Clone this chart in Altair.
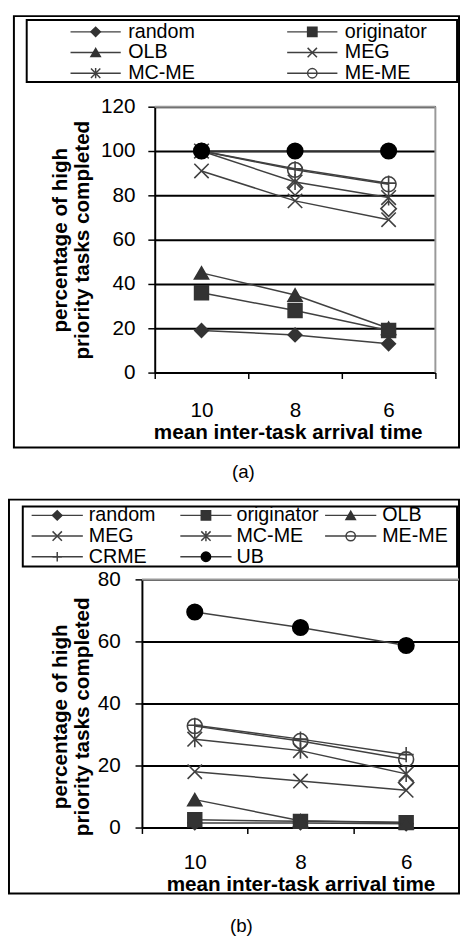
import altair as alt
import pandas as pd

# ---------------- data ----------------
categories = ["10", "8", "6"]
series_names = ["random", "originator", "OLB", "MEG", "MC-ME", "ME-ME", "CRME", "other", "UB"]

# panel (a)
a_random = [19, 17, 13]
a_originator = [36, 28, 19]
a_olb = [45, 35, 20]
a_meg = [91, 77.5, 69]
a_mcme = [100, 86, 79]
a_meme = [100, 91.5, 85]
a_crme = [100, 92, 85.5]
a_other = [None, 83.5, 74]
a_ub = [100, 100, 100]

# panel (b)
b_random = [1.5, 1.5, 1.2]
b_originator = [2.5, 2.0, 1.6]
b_olb = [9.0, 2.2, 1.6]
b_meg = [18, 15, 12]
b_mcme = [28.5, 24.8, 17.3]
b_meme = [32.7, 27.9, 22]
b_crme = [33, 28.5, 23.5]
b_other = [None, None, 14.5]
b_ub = [69.5, 64.5, 58.7]

legend_a = ["random", "originator", "OLB", "MEG", "MC-ME", "ME-ME"]
legend_b = ["random", "originator", "OLB", "MEG", "MC-ME", "ME-ME", "CRME", "UB"]

y_ticks_a = [0, 20, 40, 60, 80, 100, 120]
y_ticks_b = [0, 20, 40, 60, 80]

y_title = ["percentage of high", "priority tasks completed"]
x_title = "mean inter-task arrival time"

# ---------------- styles ----------------
FONT = "Liberation Sans"
LINE = "#404040"
FILL = "#333333"
XMARK = "M-1,-1L1,1M-1,1L1,-1"
ASTER = "M-1,-1L1,1M-1,1L1,-1M0,-1.1L0,1.1"
PLUS = "M-1,0L1,0M0,-1L0,1"

shape_range = ["diamond", "square", "triangle-up", XMARK, ASTER, "circle", PLUS, "diamond", "circle"]
fill_range = [FILL, FILL, FILL, "transparent", "transparent", "transparent", "transparent", "transparent", "black"]
stroke_range = [FILL, FILL, FILL, LINE, LINE, LINE, LINE, LINE, "black"]
size_range = [190, 250, 240, 300, 300, 420, 400, 256, 220]


def long_df(values):
    rows = []
    for name, vals in zip(series_names, values):
        for c, v in zip(categories, vals):
            if v is not None:
                rows.append({"series": name, "cat": c, "value": v})
    return pd.DataFrame(rows)


def legend_df(names, ncols, g):
    rows = []
    for i, n in enumerate(names):
        r, c = divmod(i, ncols)
        cx = g["leg_cx"][c]
        rows.append({"series": n, "lx": cx, "lx1": cx - g["leg_half"], "lx2": cx + g["leg_half"],
                     "ly": g["leg_rows"][r], "tx": g["leg_tx"][c]})
    return pd.DataFrame(rows)


def make_panel(values, legend_names, ncols, ymax, yticks, g, caption):
    df = long_df(values)
    xs = alt.Scale(type="band", domain=categories, range=g["xrange"], paddingInner=0, paddingOuter=0)
    ys = alt.Scale(domain=[0, ymax], nice=False, zero=True)
    shape_s = alt.Scale(domain=series_names, range=shape_range)
    fill_s = alt.Scale(domain=series_names, range=fill_range)
    stroke_s = alt.Scale(domain=series_names, range=stroke_range)
    size_s = alt.Scale(domain=series_names, range=size_range)

    x_enc = alt.X("cat:N", sort=categories, scale=xs, axis=alt.Axis(
        title=x_title, tickBand="extent", labelAngle=0, grid=False,
        domainColor="black", domainWidth=2, tickColor="black", tickWidth=1.5, tickSize=6,
        labelFont=FONT, labelFontSize=21, labelColor="black", labelPadding=g["xlp"],
        titleFont=FONT, titleFontSize=21, titleFontWeight="bold", titleColor="black",
        titleX=g["xt_x"], titleY=g["xt_y"], titleBaseline="alphabetic", titleAlign="center"))
    y_enc = alt.Y("value:Q", scale=ys, axis=alt.Axis(
        values=yticks, format="d", title=y_title, grid=True, gridColor="black", gridWidth=2,
        domainColor="black", domainWidth=2, tickColor="black", tickWidth=1.5, tickSize=7,
        labelFont=FONT, labelFontSize=21, labelColor="black", labelPadding=g["ylp"],
        offset=g["yoff"],
        titleFont=FONT, titleFontSize=21, titleFontWeight="bold", titleColor="black",
        titleAngle=270, titleAlign="center", titleBaseline="alphabetic", titleLineHeight=23,
        titleX=g["yt_x"], titleY=g["yt_y"]))

    one = alt.Chart(pd.DataFrame({"k": [0]}))
    frame = one.mark_rect(fill="transparent", stroke="black", strokeWidth=2).encode(
        x=alt.value(g["frame"][0]), x2=alt.value(g["frame"][1]),
        y=alt.value(g["frame"][2]), y2=alt.value(g["frame"][3]))
    legbox = one.mark_rect(fill="transparent", stroke="black", strokeWidth=2).encode(
        x=alt.value(g["legbox"][0]), x2=alt.value(g["legbox"][1]),
        y=alt.value(g["legbox"][2]), y2=alt.value(g["legbox"][3]))
    border_top = one.mark_rule(color="#999999", strokeWidth=2).encode(
        x=alt.value(g["xrange"][0]), x2=alt.value(g["xrange"][1]), y=alt.value(0))
    layers = [frame, legbox, border_top]
    if g.get("right_border"):
        layers.append(one.mark_rule(color="#999999", strokeWidth=2).encode(
            x=alt.value(g["xrange"][1]), y=alt.value(0), y2=alt.value(g["h"])))

    base = alt.Chart(df)
    lines = base.transform_filter("datum.series != 'other'").mark_line(
        color=LINE, strokeWidth=1.5).encode(x=x_enc, y=y_enc, detail="series:N")
    points = base.mark_point(opacity=1, strokeWidth=1.6).encode(
        x=x_enc, y=y_enc,
        shape=alt.Shape("series:N", scale=shape_s, legend=None),
        fill=alt.Fill("series:N", scale=fill_s, legend=None),
        stroke=alt.Stroke("series:N", scale=stroke_s, legend=None),
        size=alt.Size("series:N", scale=size_s, legend=None))

    ldf = legend_df(legend_names, ncols, g)
    lbase = alt.Chart(ldf)
    leg_lines = lbase.mark_rule(color=LINE, strokeWidth=1.5).encode(
        x=alt.X("lx1:Q", scale=None, axis=None), x2="lx2:Q",
        y=alt.Y("ly:Q", scale=None, axis=None))
    leg_pts = lbase.mark_point(opacity=1, strokeWidth=1.5).encode(
        x=alt.X("lx:Q", scale=None, axis=None), y=alt.Y("ly:Q", scale=None, axis=None),
        shape=alt.Shape("series:N", scale=shape_s, legend=None),
        fill=alt.Fill("series:N", scale=fill_s, legend=None),
        stroke=alt.Stroke("series:N", scale=stroke_s, legend=None),
        size=alt.value(90))
    leg_txt = lbase.mark_text(align="left", baseline="middle", font=FONT, fontSize=20, color="black").encode(
        x=alt.X("tx:Q", scale=None, axis=None), y=alt.Y("ly:Q", scale=None, axis=None), text="series:N")
    cap = one.mark_text(align="center", baseline="middle", font=FONT, fontSize=19, color="black").encode(
        x=alt.value(g["cap"][0]), y=alt.value(g["cap"][1]), text=alt.value(caption))

    layers += [lines, points, leg_lines, leg_pts, leg_txt, cap]
    return alt.layer(*layers).properties(width=g["w"], height=g["h"])


geom_a = dict(w=298, h=270, xrange=[13, 298], yoff=-13, ylp=13, xlp=22,
              yt_x=-90, yt_y=135, xt_x=148, xt_y=67,
              frame=[-130, 322, -92, 346], legbox=[-117, 320, -88, -25],
              leg_cx=[-47, 173], leg_tx=[-14, 206], leg_rows=[-76, -55, -34], leg_half=25.5,
              cap=[103, 371], right_border=True)
geom_b = dict(w=322, h=252, xrange=[0, 322], yoff=0, ylp=15, xlp=19,
              yt_x=-77, yt_y=139, xt_x=161, xt_y=64,
              frame=[-135, 322, -81, 319], legbox=[-121, 320, -74, -13],
              leg_cx=[-86, 65, 212], leg_tx=[-54, 96, 244], leg_rows=[-65, -44, -23], leg_half=26,
              cap=[101, 352], right_border=False)

vals_a = [a_random, a_originator, a_olb, a_meg, a_mcme, a_meme, a_crme, a_other, a_ub]
vals_b = [b_random, b_originator, b_olb, b_meg, b_mcme, b_meme, b_crme, b_other, b_ub]

pa = make_panel(vals_a, legend_a, 2, 120, y_ticks_a, geom_a, "(a)")
pb = make_panel(vals_b, legend_b, 3, 80, y_ticks_b, geom_b, "(b)")

chart = alt.vconcat(pa, pb, spacing=17).properties(padding=0, background="white").configure_view(stroke=None)
chart.save("out.html", embed_options={"renderer": "svg", "actions": False})
